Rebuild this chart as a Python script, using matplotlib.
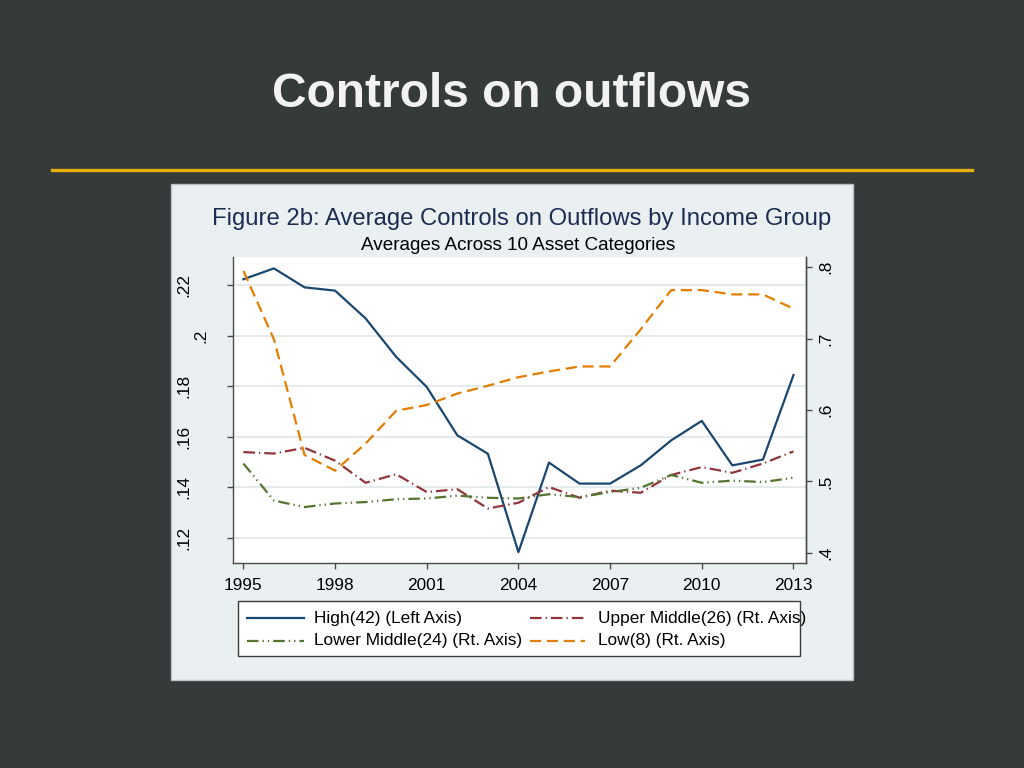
import matplotlib
matplotlib.use("Agg")
import matplotlib.pyplot as plt
from matplotlib.lines import Line2D
from matplotlib.patches import Rectangle
import matplotlib.transforms as mtransforms

# ---------------- data ----------------
years = list(range(1995, 2014))
high = [0.2223, 0.2266, 0.2191, 0.2178, 0.2068, 0.1916, 0.1797, 0.1606, 0.1533,
        0.1144, 0.1498, 0.1415, 0.1415, 0.1487, 0.1586, 0.1663, 0.1487, 0.1510, 0.1844]
upper_middle = [0.541, 0.539, 0.547, 0.529, 0.498, 0.510, 0.485, 0.489, 0.462,
                0.470, 0.492, 0.477, 0.487, 0.484, 0.509, 0.520, 0.512, 0.525, 0.542]
lower_middle = [0.525, 0.473, 0.464, 0.469, 0.471, 0.475, 0.476, 0.480, 0.477,
                0.476, 0.482, 0.478, 0.485, 0.491, 0.509, 0.498, 0.501, 0.499, 0.505]
low = [0.795, 0.699, 0.537, 0.515, 0.553, 0.599, 0.607, 0.623, 0.634,
       0.646, 0.654, 0.661, 0.661, 0.713, 0.768, 0.768, 0.762, 0.762, 0.742]

x_ticks = [1995, 1998, 2001, 2004, 2007, 2010, 2013]
left_ticks = [0.12, 0.14, 0.16, 0.18, 0.20, 0.22]
left_labels = [".12", ".14", ".16", ".18", ".2", ".22"]
right_ticks = [0.4, 0.5, 0.6, 0.7, 0.8]
right_labels = [".4", ".5", ".6", ".7", ".8"]

labels = ["High(42) (Left Axis)", "Upper Middle(26) (Rt. Axis)",
          "Lower Middle(24) (Rt. Axis)", "Low(8) (Rt. Axis)"]

slide_title = "Controls on outflows"
fig_title = "Figure 2b: Average Controls on Outflows by Income Group"
fig_subtitle = "Averages Across 10 Asset Categories"

# ---------------- styles ----------------
FONT = "Liberation Sans"
plt.rcParams["font.family"] = [FONT, "DejaVu Sans"]
W, H = 1024, 768
def fx(x): return x / W
def fy(y): return 1 - y / H

C_HIGH = "#1a476f"
C_UM = "#90353b"
C_LM = "#55752f"
C_LOW = "#e37e00"
LW = 1.6
st_high = dict(color=C_HIGH, lw=LW, linestyle="-")
st_um = dict(color=C_UM, lw=LW, linestyle=(0, (5.2, 1.8, 0.6, 1.8)))
st_lm = dict(color=C_LM, lw=LW, linestyle=(0, (5.2, 1.8, 0.6, 1.8, 0.6, 1.8)))
st_low = dict(color=C_LOW, lw=LW, linestyle=(0, (5.0, 2.6)))

fig = plt.figure(figsize=(W / 100, H / 100), dpi=100)
fig.patch.set_facecolor("#353b3b")

# slide title and rule
fig.text(0.5, fy(107), slide_title, ha="center", va="baseline",
         fontsize=34.5, fontweight="bold", color="#f2f2f2")
fig.add_artist(Line2D([fx(52), fx(972)], [fy(170), fy(170)],
                      transform=fig.transFigure, color="#e8ae0c", lw=2.4))

# chart panel
fig.add_artist(Rectangle((fx(171), fy(680)), fx(853) - fx(171), fy(184) - fy(680),
                         transform=fig.transFigure, facecolor="#eaf0f2",
                         edgecolor="#b8c0c4", lw=1.0, zorder=0))

fig.text(fx(522), fy(225), fig_title, ha="center", va="baseline",
         fontsize=17.2, color="#1c2d52")
fig.text(fx(518), fy(250), fig_subtitle, ha="center", va="baseline",
         fontsize=13.6, color="black")

# axes
ax = fig.add_axes([fx(233), fy(563), fx(806) - fx(233), fy(257) - fy(563)])
ax.set_facecolor("white")
ax.set_xlim(1994.66, 2013.41)
ax.set_ylim(0.1101, 0.2311)
for y in left_ticks:
    ax.axhline(y, color="#e3e9ec", lw=1.3, zorder=0)
ax.plot(years, high, **st_high, zorder=3)

ax2 = ax.twinx()
ax2.set_ylim(0.3856, 0.8144)
ax2.plot(years, upper_middle, **st_um, zorder=3)
ax2.plot(years, lower_middle, **st_lm, zorder=3)
ax2.plot(years, low, **st_low, zorder=3)

spine_c = "#4a4a4a"
for a in (ax, ax2):
    a.spines["top"].set_visible(False)
    for s in a.spines.values():
        s.set_color(spine_c)
        s.set_linewidth(1.0)
ax2.spines["left"].set_visible(False)
ax2.spines["bottom"].set_visible(False)

ax.set_xticks(x_ticks)
ax.set_xticklabels([str(t) for t in x_ticks], fontsize=12.4)
ax.tick_params(axis="x", direction="out", length=4.5, width=1.0, color=spine_c, pad=6)
ax.set_yticks(left_ticks)
ax.set_yticklabels([])
ax.tick_params(axis="y", direction="out", length=4.5, width=1.0, color=spine_c)
ax2.set_yticks(right_ticks)
ax2.set_yticklabels([])
ax2.tick_params(axis="y", direction="out", length=4.5, width=1.0, color=spine_c)

# rotated y tick labels (Stata style)
tl = mtransforms.blended_transform_factory(fig.transFigure, ax.transData)
for v, s in zip(left_ticks, left_labels):
    xc = 184 if len(s) == 3 else 201
    ax.text(fx(xc), v, s, transform=tl, rotation=90, ha="center", va="center",
            fontsize=12.4, clip_on=False)
tr = mtransforms.blended_transform_factory(fig.transFigure, ax2.transData)
for v, s in zip(right_ticks, right_labels):
    ax2.text(fx(826), v, s, transform=tr, rotation=90, ha="center", va="center",
             fontsize=12.4, clip_on=False)

# legend (drawn in figure pixels)
fig.add_artist(Rectangle((fx(238), fy(656)), fx(800) - fx(238), fy(601) - fy(656),
                         transform=fig.transFigure, facecolor="white",
                         edgecolor="#3a3a3a", lw=1.0, zorder=5))
entries = [(st_high, labels[0], 247, 304, 314, 618),
           (st_um, labels[1], 530, 585, 598, 618),
           (st_lm, labels[2], 247, 304, 314, 641),
           (st_low, labels[3], 530, 585, 598, 641)]
for st, lab, x0, x1, xt, yy in entries:
    fig.add_artist(Line2D([fx(x0), fx(x1)], [fy(yy), fy(yy)],
                          transform=fig.transFigure, zorder=6, **st))
    fig.text(fx(xt), fy(yy), lab, ha="left", va="center", fontsize=12.4,
             color="black", zorder=6)

fig.savefig("out.png", dpi=100, facecolor=fig.get_facecolor())
